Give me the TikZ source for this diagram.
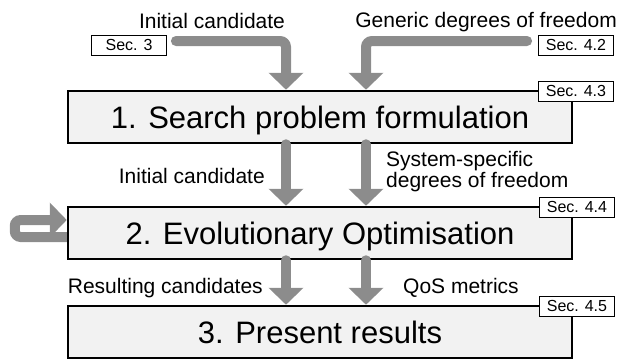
\documentclass[tikz,border=0pt]{standalone}
\usepackage{fontspec}
\setmainfont{Liberation Sans}
\usetikzlibrary{arrows.meta, positioning}
\definecolor{arrowgray}{RGB}{140,140,140}
\definecolor{stagecolor}{RGB}{242,242,242}

\begin{document}
\begin{tikzpicture}[
    x=1pt, y=-1pt,
    stage/.style={draw, fill=stagecolor, line width=2.5pt, minimum width=504pt, minimum height=52pt, inner sep=0pt, text depth=0pt, font=\fontsize{31}{36}\selectfont},
    sec/.style={draw, fill=white, line width=0.8pt, minimum width=75pt, minimum height=20pt, inner sep=0pt, text depth=0pt, font=\fontsize{16}{18}\selectfont},
    lbl/.style={inner sep=0pt, font=\fontsize{21}{21}\selectfont},
    flow/.style={draw=arrowgray, line width=10pt, line cap=round, rounded corners=6pt, -{Triangle[length=17pt, width=34pt]}}
]
    \useasboundingbox (0,0) rectangle (622,362);

    % Stages
    \node[stage] (s1) at (320,117) {1. Search problem formulation};
    \node[stage] (s2) at (320,233) {2. Evolutionary Optimisation};
    \node[stage] (s3) at (320,332) {3. Present results};

    % Section references
    \node[sec] (sec3) at (129,45) {Sec. 3};
    \node[sec] (sec42) at (576,45) {Sec. 4.2};
    \node[sec] (sec43) at (576,91) {Sec. 4.3};
    \node[sec] (sec44) at (577,207) {Sec. 4.4};
    \node[sec] (sec45) at (577,306) {Sec. 4.5};

    % Labels
    \node[lbl, anchor=base] (inittop) at (212,28) {Initial candidate};
    \node[lbl, anchor=base east] (generic) at (617,27) {Generic degrees of freedom};
    \node[lbl, anchor=base east] (initmid) at (265,183) {Initial candidate};
    \node[lbl, anchor=west, align=left] (specific) at (386,172) {System-specific\\degrees of freedom};
    \node[lbl, anchor=base east] (results) at (263,293) {Resulting candidates};
    \node[lbl, anchor=base west] (qos) at (403,293) {QoS metrics};

    % Flows
    \draw[flow] ([xshift=9pt, yshift=4pt]sec3.east) -| ([xshift=-34pt]s1.north);
    \draw[flow] ([xshift=-11pt, yshift=4pt]sec42.west) -| ([xshift=46pt]s1.north);
    \draw[flow] ([xshift=-34pt]s1.south) -- ([xshift=-34pt]s2.north);
    \draw[flow] ([xshift=46pt]s1.south) -- ([xshift=46pt]s2.north);
    \draw[flow] ([xshift=-34pt]s2.south) -- ([xshift=-34pt]s3.north);
    \draw[flow] ([xshift=46pt]s2.south) -- ([xshift=46pt]s3.north);
    \draw[flow, line cap=butt] ([yshift=-4pt]s2.west) -- ++(-52,0) |- ([yshift=13pt]s2.west);
\end{tikzpicture}
\end{document}
